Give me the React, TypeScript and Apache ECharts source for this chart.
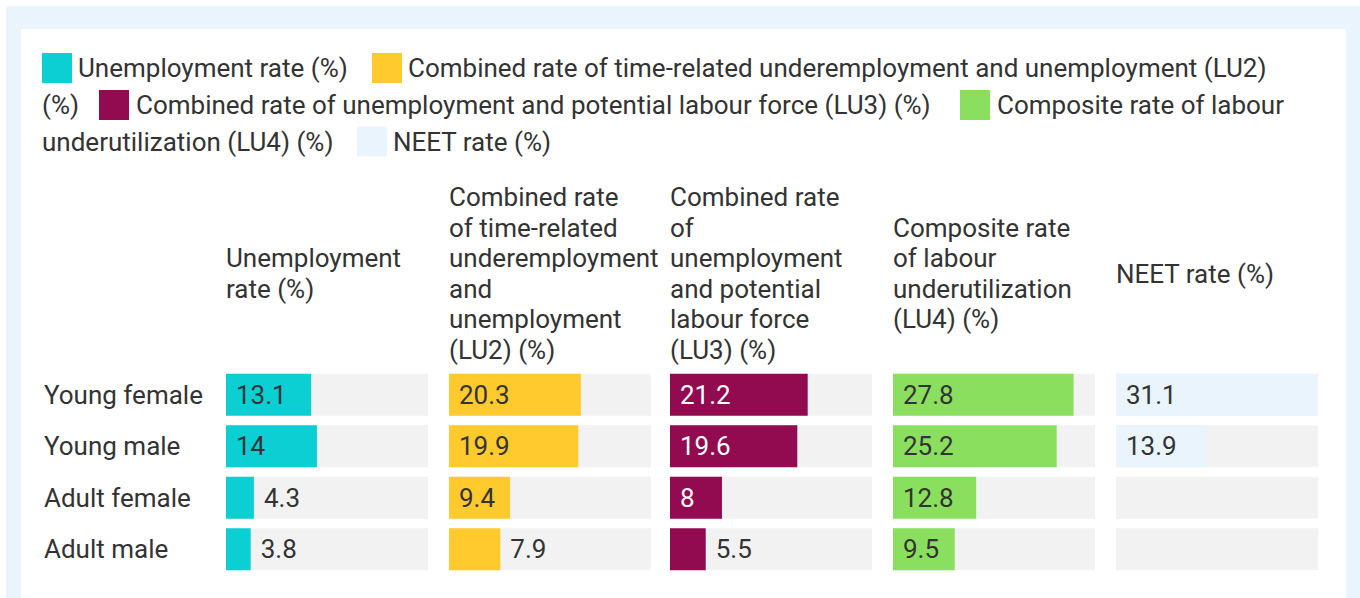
import React, { useEffect, useRef } from 'react';
import * as echarts from 'echarts';

const categories = ['Young female', 'Young male', 'Adult female', 'Adult male'];

const seriesNames = [
  'Unemployment rate (%)',
  'Combined rate of time-related underemployment and unemployment (LU2) (%)',
  'Combined rate of unemployment and potential labour force (LU3) (%)',
  'Composite rate of labour underutilization (LU4) (%)',
  'NEET rate (%)',
];

const headerLines = [
  ['Unemployment', 'rate (%)'],
  ['Combined rate', 'of time-related', 'underemployment', 'and', 'unemployment', '(LU2) (%)'],
  ['Combined rate', 'of', 'unemployment', 'and potential', 'labour force', '(LU3) (%)'],
  ['Composite rate', 'of labour', 'underutilization', '(LU4) (%)'],
  ['NEET rate (%)'],
];

const unemploymentRate = [13.1, 14, 4.3, 3.8];
const lu2Rate = [20.3, 19.9, 9.4, 7.9];
const lu3Rate = [21.2, 19.6, 8, 5.5];
const lu4Rate = [27.8, 25.2, 12.8, 9.5];
const neetRate: (number | null)[] = [31.1, 13.9, null, null];

const seriesValues = [unemploymentRate, lu2Rate, lu3Rate, lu4Rate, neetRate];
const colors = ['#0ccfd3', '#ffca2e', '#920a4f', '#8adf5f', '#e9f4fd'];

const FONT = 'Roboto, "Noto Sans", sans-serif';
const TEXT = '#333333';

function isDark(hex: string) {
  const r = parseInt(hex.slice(1, 3), 16);
  const g = parseInt(hex.slice(3, 5), 16);
  const b = parseInt(hex.slice(5, 7), 16);
  return 0.299 * r + 0.587 * g + 0.114 * b < 140;
}

export default function App() {
  const ref = useRef<HTMLDivElement>(null);

  useEffect(() => {
    if (!ref.current) return;
    const chart = echarts.init(ref.current, undefined, { renderer: 'svg' });

    const canvas = document.createElement('canvas');
    const ctx = canvas.getContext('2d')!;
    ctx.font = '26px Roboto';

    const allVals = seriesValues.flat().filter((v) => v != null) as number[];
    const maxVal = Math.max(...allVals);

    const gridLefts = [226, 449, 670, 893, 1116];
    const gridWidth = 202;
    const gridTop = 369;
    const gridHeight = 206;

    const grids = gridLefts.map((l) => ({ left: l, top: gridTop, width: gridWidth, height: gridHeight }));
    const xAxes = gridLefts.map((_, i) => ({
      type: 'value', gridIndex: i, min: 0, max: maxVal, show: false,
    }));
    const yAxes = gridLefts.map((_, i) => ({
      type: 'category', gridIndex: i, data: categories, inverse: true,
      axisLine: { show: false }, axisTick: { show: false },
      axisLabel: i === 0
        ? { show: true, align: 'left', margin: 182, fontSize: 26, color: TEXT, fontFamily: FONT }
        : { show: false },
    }));

    const series = seriesValues.map((vals, i) => ({
      type: 'bar',
      name: seriesNames[i],
      xAxisIndex: i,
      yAxisIndex: i,
      barCategoryGap: '18.4%',
      showBackground: true,
      backgroundStyle: { color: '#f2f2f2' },
      itemStyle: { color: colors[i] },
      label: { show: true, fontSize: 26, fontFamily: FONT, distance: 10 },
      data: vals.map((v) => {
        if (v == null) return '-';
        const barW = (v / maxVal) * gridWidth;
        const tw = ctx.measureText(String(v)).width;
        const fits = barW >= tw + 20;
        return {
          value: v,
          label: fits
            ? { position: 'insideLeft', color: isDark(colors[i]) ? '#ffffff' : TEXT }
            : { position: 'right', color: TEXT },
        };
      }),
    }));

    const legendItems: any[] = [];
    const sq = (x: number, cy: number, color: string) => ({
      type: 'rect', shape: { x, y: cy - 15, width: 30, height: 30 }, style: { fill: color }, z: 5,
    });
    const tx = (x: number, cy: number, text: string) => ({
      type: 'text', x, y: cy, z: 5,
      style: { text, fill: TEXT, font: `26px ${FONT}`, verticalAlign: 'middle', align: 'left' },
    });
    const r1 = 68, r2 = 105, r3 = 141.5;
    legendItems.push(sq(42, r1, colors[0]), tx(78, r1, 'Unemployment rate (%)'));
    legendItems.push(sq(372, r1, colors[1]), tx(408, r1, 'Combined rate of time-related underemployment and unemployment (LU2)'));
    legendItems.push(tx(42, r2, '(%)'));
    legendItems.push(sq(99, r2, colors[2]), tx(136, r2, 'Combined rate of unemployment and potential labour force (LU3) (%)'));
    legendItems.push(sq(960, r2, colors[3]), tx(997, r2, 'Composite rate of labour'));
    legendItems.push(tx(42, r3, 'underutilization (LU4) (%)'));
    legendItems.push(sq(357, r3, colors[4]), tx(393, r3, 'NEET rate (%)'));

    const headers = headerLines.map((lines, i) => ({
      type: 'text', x: gridLefts[i], y: 273.5, z: 5,
      style: {
        text: lines.join('\n'), fill: TEXT, font: `26px ${FONT}`,
        lineHeight: 30.6, verticalAlign: 'middle', align: 'left',
      },
    }));

    chart.setOption({
      animation: false,
      backgroundColor: '#ffffff',
      graphic: [
        { type: 'rect', shape: { x: 6, y: 6, width: 1354, height: 592 }, style: { fill: '#eaf4fc' }, z: -10 },
        { type: 'rect', shape: { x: 21, y: 29, width: 1325, height: 569 }, style: { fill: '#ffffff' }, z: -9 },
        ...legendItems,
        ...headers,
      ],
      grid: grids,
      xAxis: xAxes,
      yAxis: yAxes,
      series,
    });

    return () => chart.dispose();
  }, []);

  return <div ref={ref} style={{ position: 'fixed', left: 0, top: 0, width: 1360, height: 598 }} />;
}
